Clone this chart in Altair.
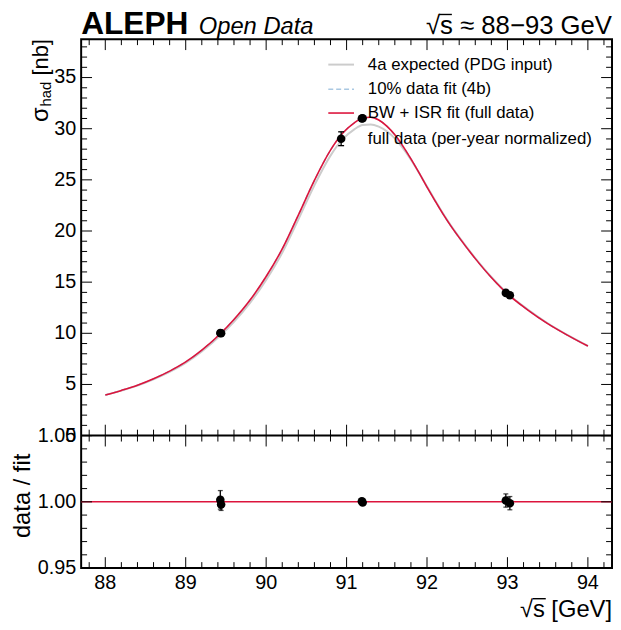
import altair as alt
import pandas as pd

# ---------------- data ----------------
fit_x = [88.0, 88.2, 88.4, 88.6, 88.8, 89.0, 89.2, 89.44, 89.6, 89.8, 90.0, 90.2, 90.4, 90.6,
         90.8, 90.95, 91.1, 91.2, 91.3, 91.4, 91.5, 91.6, 91.7, 91.8, 91.9, 92.0, 92.1, 92.2,
         92.3, 92.4, 92.6, 92.8, 93.0, 93.25, 93.5, 93.75, 94.0]
fit_y = [3.97, 4.42, 4.92, 5.55, 6.30, 7.20, 8.35, 10.03, 11.35, 13.25, 15.55, 18.25, 21.55, 24.95,
         27.90, 29.55, 30.60, 31.05, 31.12, 30.85, 30.25, 29.40, 28.30, 27.05, 25.70, 24.30, 22.95, 21.65,
         20.45, 19.35, 17.30, 15.45, 13.85, 12.30, 10.95, 9.80, 8.75]

b10_x = [88.0, 88.2, 88.4, 88.6, 88.8, 89.0, 89.2, 89.44, 89.6, 89.8, 90.0, 90.2, 90.4, 90.6,
         90.8, 90.95, 91.1, 91.2, 91.3, 91.4, 91.5, 91.6, 91.7, 91.8, 91.9, 92.0, 92.1, 92.2,
         92.3, 92.4, 92.6, 92.8, 93.0, 93.25, 93.5, 93.75, 94.0]
b10_y = [3.97, 4.42, 4.92, 5.55, 6.30, 7.20, 8.35, 10.03, 11.35, 13.25, 15.55, 18.25, 21.55, 24.95,
         27.90, 29.55, 30.60, 31.05, 31.12, 30.85, 30.25, 29.40, 28.30, 27.05, 25.70, 24.30, 22.95, 21.65,
         20.45, 19.35, 17.30, 15.45, 13.85, 12.30, 10.95, 9.80, 8.75]

pdg_x = [88.0, 88.2, 88.4, 88.6, 88.8, 89.0, 89.2, 89.44, 89.6, 89.8, 90.0, 90.2, 90.4, 90.6,
         90.8, 90.95, 91.1, 91.2, 91.3, 91.4, 91.5, 91.6, 91.7, 91.8, 91.9, 92.0, 92.1, 92.2,
         92.3, 92.4, 92.6, 92.8, 93.0, 93.25, 93.5, 93.75, 94.0]
pdg_y = [3.96, 4.40, 4.88, 5.49, 6.22, 7.10, 8.22, 9.85, 11.12, 12.97, 15.22, 17.87, 21.12, 24.47,
         27.37, 28.95, 29.96, 30.37, 30.42, 30.20, 29.75, 29.05, 28.10, 26.97, 25.70, 24.35, 23.00, 21.70,
         20.50, 19.40, 17.35, 15.50, 13.90, 12.35, 10.98, 9.82, 8.76]

data_x = [89.43, 89.44, 91.19, 91.20, 92.98, 93.03]
data_y = [10.03, 10.00, 31.00, 31.02, 13.95, 13.72]
data_err = [0.07, 0.05, 0.06, 0.06, 0.07, 0.07]
ratio_y = [1.0015, 0.998, 1.0005, 0.9995, 1.001, 0.999]
ratio_err = [0.0070, 0.0045, 0.0020, 0.0020, 0.0050, 0.0050]

x_major = [88, 89, 90, 91, 92, 93, 94]
x_labels = ["88", "89", "90", "91", "92", "93", "94"]
x_minor = [87.8, 88.2, 88.4, 88.6, 88.8, 89.2, 89.4, 89.6, 89.8, 90.2, 90.4, 90.6, 90.8,
           91.2, 91.4, 91.6, 91.8, 92.2, 92.4, 92.6, 92.8, 93.2, 93.4, 93.6, 93.8, 94.2]
top_major = [0, 5, 10, 15, 20, 25, 30, 35]
top_labels = ["0", "5", "10", "15", "20", "25", "30", "35"]
top_minor = [1, 2, 3, 4, 6, 7, 8, 9, 11, 12, 13, 14, 16, 17, 18, 19, 21, 22, 23, 24,
             26, 27, 28, 29, 31, 32, 33, 34, 36, 37, 38]
rat_major = [0.95, 1.00, 1.05]
rat_labels = ["0.95", "1.00", "1.05"]
rat_minor = [0.96, 0.97, 0.98, 0.99, 1.01, 1.02, 1.03, 1.04]

legend_labels = ["4a expected (PDG input)", "10% data fit (4b)",
                 "BW + ISR fit (full data)", "full data (per-year normalized)"]

# ---------------- styling ----------------
W, H, HT = 537, 535, 401
FONT = "Liberation Sans"
RED = "#dc143c"
GRAY = "#cccccc"
BLUE = "#a9c8e2"

xs = alt.Scale(domain=[87.7, 94.3], nice=False, zero=False)
ys_top = alt.Scale(domain=[0, 38.75], range=[HT, 0], nice=False, zero=False)
ys_bot = alt.Scale(domain=[0.95, 1.05], range=[H, HT], nice=False, zero=False)

one = pd.DataFrame({"a": [0]})


def X(f="x:Q"):
    return alt.X(f, scale=xs, axis=None)


def curve(xv, yv, color, width, dash=None):
    df = pd.DataFrame({"x": xv, "y": yv})
    kw = dict(color=color, strokeWidth=width, interpolate="monotone")
    if dash:
        kw["strokeDash"] = dash
    return alt.Chart(df).mark_line(**kw).encode(x=X(), y=alt.Y("y:Q", scale=ys_top, axis=None))


def points(yv, ev, scale, cap):
    df = pd.DataFrame({"x": data_x, "y": yv, "e": ev})
    base = alt.Chart(df).transform_calculate(lo="datum.y - datum.e", hi="datum.y + datum.e")
    rule = base.mark_rule(color="black", strokeWidth=1.3).encode(
        x=X(), y=alt.Y("lo:Q", scale=scale, axis=None), y2="hi:Q")
    c1 = base.mark_tick(orient="horizontal", size=cap, thickness=1.3, color="black").encode(
        x=X(), y=alt.Y("lo:Q", scale=scale, axis=None))
    c2 = base.mark_tick(orient="horizontal", size=cap, thickness=1.3, color="black").encode(
        x=X(), y=alt.Y("hi:Q", scale=scale, axis=None))
    dots = base.mark_circle(size=75, color="black", opacity=1).encode(
        x=X(), y=alt.Y("y:Q", scale=scale, axis=None))
    return [rule, c1, c2, dots]


def xticks(vals, y0, y1):
    return alt.Chart(pd.DataFrame({"v": vals})).mark_rule(color="black", strokeWidth=1).encode(
        x=X("v:Q"), y=alt.value(y0), y2=alt.value(y1))


def yticks(vals, scale, x0, x1):
    return alt.Chart(pd.DataFrame({"v": vals})).mark_rule(color="black", strokeWidth=1).encode(
        y=alt.Y("v:Q", scale=scale, axis=None), x=alt.value(x0), x2=alt.value(x1))


def text(t, x, y, size, align="left", baseline="alphabetic", angle=0, **kw):
    return alt.Chart(one).mark_text(text=t, font=FONT, fontSize=size, align=align,
                                    baseline=baseline, angle=angle, color="black", **kw).encode(
        x=alt.value(x), y=alt.value(y))


def hline(x0, x1, y, color, width, dash=None):
    kw = dict(color=color, strokeWidth=width)
    if dash:
        kw["strokeDash"] = dash
    return alt.Chart(one).mark_rule(**kw).encode(x=alt.value(x0), x2=alt.value(x1), y=alt.value(y))


layers = []
# curves
layers.append(curve(pdg_x, pdg_y, GRAY, 2))
layers.append(curve(b10_x, b10_y, BLUE, 1.5, [5, 3]))
layers.append(curve(fit_x, fit_y, RED, 1.6))
layers += points(data_y, data_err, ys_top, 6)

# ratio panel
layers.append(alt.Chart(pd.DataFrame({"r": [1.0]})).mark_rule(color=RED, strokeWidth=1.5).encode(
    y=alt.Y("r:Q", scale=ys_bot, axis=None), x=alt.value(0), x2=alt.value(W)))
layers += points(ratio_y, ratio_err, ys_bot, 5)

# legend
LX0, LX1, LT = 250, 276, 290
LY = [25.7, 50.7, 74.7, 100.7]
layers.append(hline(LX0, LX1, LY[0], GRAY, 2))
layers.append(hline(LX0, LX1, LY[1], BLUE, 1.5, [5, 3]))
layers.append(hline(LX0, LX1, LY[2], RED, 1.6))
layers.append(alt.Chart(one).mark_rule(color="black", strokeWidth=1.3).encode(
    x=alt.value(263), y=alt.value(LY[3] - 7), y2=alt.value(LY[3] + 7)))
layers.append(hline(260, 266, LY[3] - 7, "black", 1.3))
layers.append(hline(260, 266, LY[3] + 7, "black", 1.3))
layers.append(alt.Chart(one).mark_circle(size=75, color="black", opacity=1).encode(
    x=alt.value(263), y=alt.value(LY[3])))
for lab, yy in zip(legend_labels, LY):
    layers.append(text(lab, LT, yy, 17, baseline="middle"))

# ticks (inward, all four sides, both panels)
MAJ, MIN = 11, 6
for (y0, sgn) in [(0, 1), (HT, -1), (HT, 1), (H, -1)]:
    layers.append(xticks(x_major, y0, y0 + sgn * MAJ))
    layers.append(xticks(x_minor, y0, y0 + sgn * MIN))
for sc, mj, mn in [(ys_top, top_major, top_minor), (ys_bot, rat_major, rat_minor)]:
    layers.append(yticks(mj, sc, 0, MAJ))
    layers.append(yticks(mn, sc, 0, MIN))
    layers.append(yticks(mj, sc, W - MAJ, W))
    layers.append(yticks(mn, sc, W - MIN, W))

# panel separator
layers.append(hline(0, W, HT, "black", 2))

# tick labels
layers.append(alt.Chart(pd.DataFrame({"v": x_major, "t": x_labels})).mark_text(
    font=FONT, fontSize=20, align="center", baseline="middle", color="black").encode(
    x=X("v:Q"), y=alt.value(550), text="t:N"))
layers.append(alt.Chart(pd.DataFrame({"v": top_major, "t": top_labels})).mark_text(
    font=FONT, fontSize=20, align="right", baseline="middle", color="black").encode(
    y=alt.Y("v:Q", scale=ys_top, axis=None), x=alt.value(-5), text="t:N"))
layers.append(alt.Chart(pd.DataFrame({"v": rat_major, "t": rat_labels})).mark_text(
    font=FONT, fontSize=20, align="right", baseline="middle", color="black").encode(
    y=alt.Y("v:Q", scale=ys_bot, axis=None), x=alt.value(-5), text="t:N"))

# axis titles
layers.append(text("[nb]", -34, 0, 22, align="right", angle=270))
layers.append(text("had", -30, 43, 15, align="right", angle=270))
layers.append(text("σ", -34, 69, 24, align="right", angle=270))
layers.append(text("data / fit", -52, 462, 24, align="center", angle=270))
layers.append(text("√s [GeV]", W, 584, 24, align="right"))
layers.append(hline(457, 470, 566, "black", 1.4))

# header
layers.append(text("ALEPH", 0, -5, 32, fontWeight="bold"))
layers.append(text("Open Data", 119, -5, 24, fontStyle="italic"))
layers.append(text("√s ≈ 88−93 GeV", W, -5, 26, align="right"))
layers.append(hline(362, 375, -25, "black", 1.4))

chart = alt.layer(*layers).resolve_scale(y="independent").properties(
    width=W, height=H,
    autosize=alt.AutoSizeParams(type="none"),
    padding={"left": 74, "top": 28, "right": 1, "bottom": 51},
).configure_view(stroke="black", strokeWidth=2)

chart.save("out.html", embed_options={"renderer": "svg", "actions": False})
